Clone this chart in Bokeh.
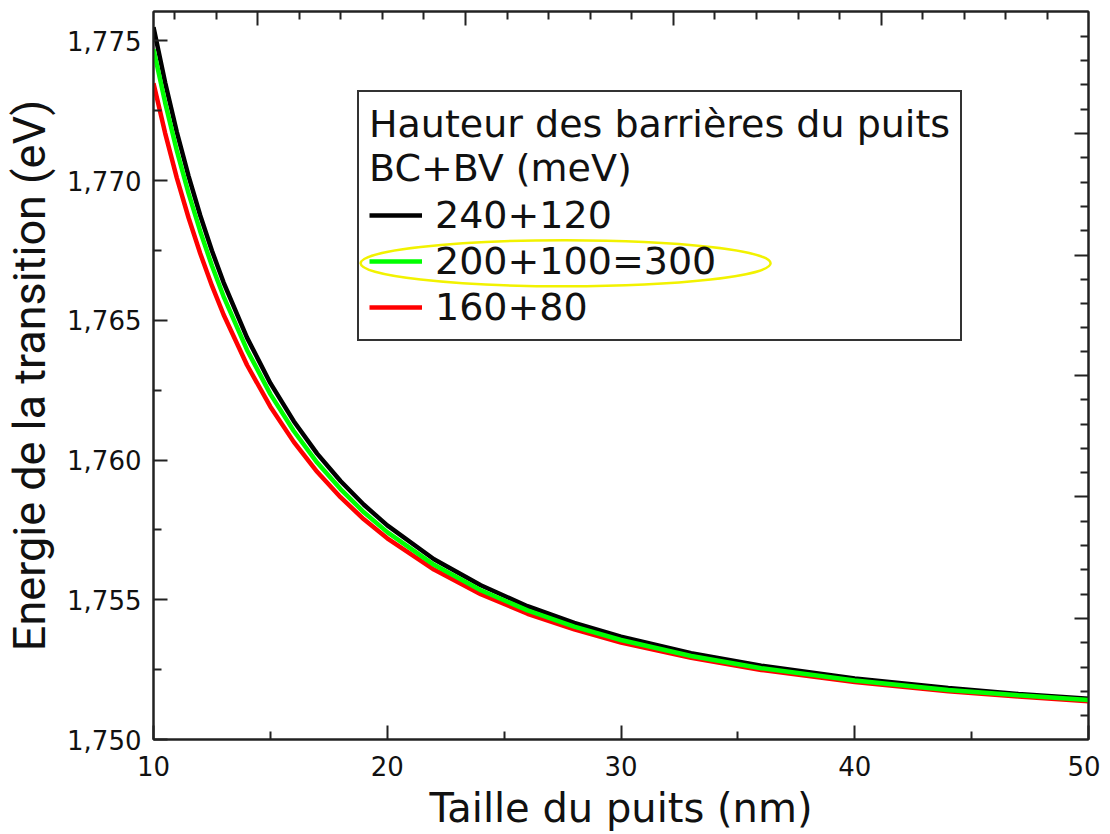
from bokeh.plotting import figure
from bokeh.models import (Range1d, LinearAxis, FixedTicker, CustomJSTickFormatter,
                          Legend, LegendItem)
from bokeh.embed import file_html
from bokeh.resources import INLINE

# ---------------- data ----------------
taille_nm = [10, 10.5, 11, 11.5, 12, 12.5, 13, 14, 15, 16, 17, 18, 19, 20,
             22, 24, 26, 28, 30, 33, 36, 40, 44, 47, 50]

e_240_120 = [1.77549, 1.77350, 1.77173, 1.77016, 1.76875, 1.76749, 1.76635,
             1.76438, 1.76275, 1.76139, 1.76023, 1.75925, 1.75840, 1.75766,
             1.75645, 1.75552, 1.75477, 1.75417, 1.75368, 1.75309, 1.75264,
             1.75218, 1.75184, 1.75163, 1.75146]

e_200_100 = [1.77470, 1.77278, 1.77106, 1.76954, 1.76818, 1.76695, 1.76585,
             1.76394, 1.76236, 1.76104, 1.75991, 1.75896, 1.75813, 1.75742,
             1.75625, 1.75534, 1.75462, 1.75404, 1.75356, 1.75299, 1.75255,
             1.75211, 1.75177, 1.75158, 1.75141]

e_160_80 = [1.77348, 1.77169, 1.77009, 1.76867, 1.76739, 1.76624, 1.76520,
            1.76340, 1.76191, 1.76065, 1.75958, 1.75867, 1.75788, 1.75720,
            1.75608, 1.75520, 1.75450, 1.75394, 1.75347, 1.75292, 1.75249,
            1.75206, 1.75173, 1.75154, 1.75137]

series_labels = ["240+120", "200+100=300", "160+80"]
series_colors = ["#000000", "#00ff00", "#ff0000"]
legend_title = "Hauteur des barrières du puits\nBC+BV (meV)"

x_label = "Taille du puits (nm)"
y_label = "Energie de la transition (eV)"

x_major = [10, 20, 30, 40, 50]
x_minor = [15, 25, 35, 45]
y_major = [1.750, 1.755, 1.760, 1.765, 1.770, 1.775]
y_minor = [1.7525, 1.7575, 1.7625, 1.7675, 1.7725]

# mirrored (top / right) axes have their own tick spacing in the picture
top_major = [14.46, 23.35, 32.24, 41.13]
top_minor = [10.91, 12.68, 16.24, 18.02, 19.80, 21.57, 25.13, 26.91, 28.69,
             30.46, 34.02, 35.80, 37.58, 39.35, 42.91, 44.69, 46.47, 48.24]
right_major = [1.75433, 1.75869, 1.76301, 1.76733, 1.77169]
right_minor = [1.75085, 1.75172, 1.75259, 1.75346, 1.75520, 1.75607, 1.75694,
               1.75781, 1.75955, 1.76042, 1.76128, 1.76215, 1.76387, 1.76474,
               1.76560, 1.76647, 1.76820, 1.76907, 1.76994, 1.77082, 1.77256,
               1.77343, 1.77430, 1.77517]

# highlight ellipse around the green legend entry
hl_x, hl_y, hl_w, hl_h = 27.63, 1.76704, 17.54, 0.00165

FONT = "DejaVu Sans"

p = figure(frame_width=935, frame_height=728,
           x_range=Range1d(10, 50), y_range=Range1d(1.750, 1.77605),
           output_backend="svg", toolbar_location=None,
           x_axis_label=x_label, y_axis_label=y_label,
           min_border_left=0, min_border_right=12, min_border_top=11,
           min_border_bottom=0)
p.background_fill_color = "white"
p.border_fill_color = "white"
p.grid.visible = False
p.outline_line_color = "#222222"
p.outline_line_width = 2

def style_axis(ax, major, minor, labels=True):
    ax.ticker = FixedTicker(ticks=major, minor_ticks=minor)
    ax.axis_line_color = "#222222"
    ax.axis_line_width = 2
    ax.major_tick_in = 14
    ax.major_tick_out = 0
    ax.minor_tick_in = 8
    ax.minor_tick_out = 0
    ax.major_tick_line_color = "#222222"
    ax.minor_tick_line_color = "#222222"
    ax.major_tick_line_width = 2
    ax.minor_tick_line_width = 2
    if labels:
        ax.major_label_text_font = FONT
        ax.major_label_text_font_size = "26px"
        ax.major_label_text_color = "#111111"
        ax.axis_label_text_font = FONT
        ax.axis_label_text_font_size = "40px"
        ax.axis_label_text_font_style = "normal"
        ax.axis_label_text_color = "#111111"
    else:
        ax.formatter = CustomJSTickFormatter(code="return '';")
        ax.major_label_text_font_size = "1px"
        ax.major_label_standoff = 0
        ax.axis_label = None

xa = p.xaxis[0]
ya = p.yaxis[0]
style_axis(xa, x_major, x_minor)
style_axis(ya, y_major, y_minor)
xa.major_label_standoff = 16
xa.axis_label_standoff = 6
ya.major_label_standoff = 12
ya.axis_label_standoff = 8
ya.axis_label_text_font = "Roboto"
ya.axis_label_text_font_size = "45px"
ya.formatter = CustomJSTickFormatter(code="return tick.toFixed(3).replace('.', ',');")

top_ax = LinearAxis()
style_axis(top_ax, top_major, top_minor, labels=False)
p.add_layout(top_ax, "above")
right_ax = LinearAxis()
style_axis(right_ax, right_major, right_minor, labels=False)
p.add_layout(right_ax, "right")

series = [e_240_120, e_200_100, e_160_80]
renderers = []
for ys, c in zip(series, series_colors):
    r = p.line(taille_nm, ys, line_color=c, line_width=4.5)
    renderers.append(r)

# draw order: black, red, green on top
p.renderers = [renderers[0], renderers[2], renderers[1]]

legend = Legend(items=[LegendItem(label=l, renderers=[r])
                       for l, r in zip(series_labels, renderers)],
                location=(204, 398), title=legend_title)
legend.title_text_font = FONT
legend.title_text_font_size = "38px"
legend.title_text_font_style = "normal"
legend.title_text_color = "#111111"
legend.title_standoff = 3
legend.label_text_font = FONT
legend.label_text_font_size = "38px"
legend.label_text_color = "#111111"
legend.glyph_width = 53
legend.glyph_height = 44
legend.label_height = 44
legend.label_standoff = 13
legend.spacing = 2
legend.padding = 10
legend.margin = 0
legend.border_line_color = "#333333"
legend.border_line_alpha = 1
legend.border_line_width = 2
legend.background_fill_alpha = 0
p.add_layout(legend, "center")

p.ellipse(x=[hl_x], y=[hl_y], width=[hl_w], height=[hl_h],
          fill_alpha=0, line_color="#f2f200", line_width=2.5)

open("out.html", "w").write(file_html(p, INLINE))
